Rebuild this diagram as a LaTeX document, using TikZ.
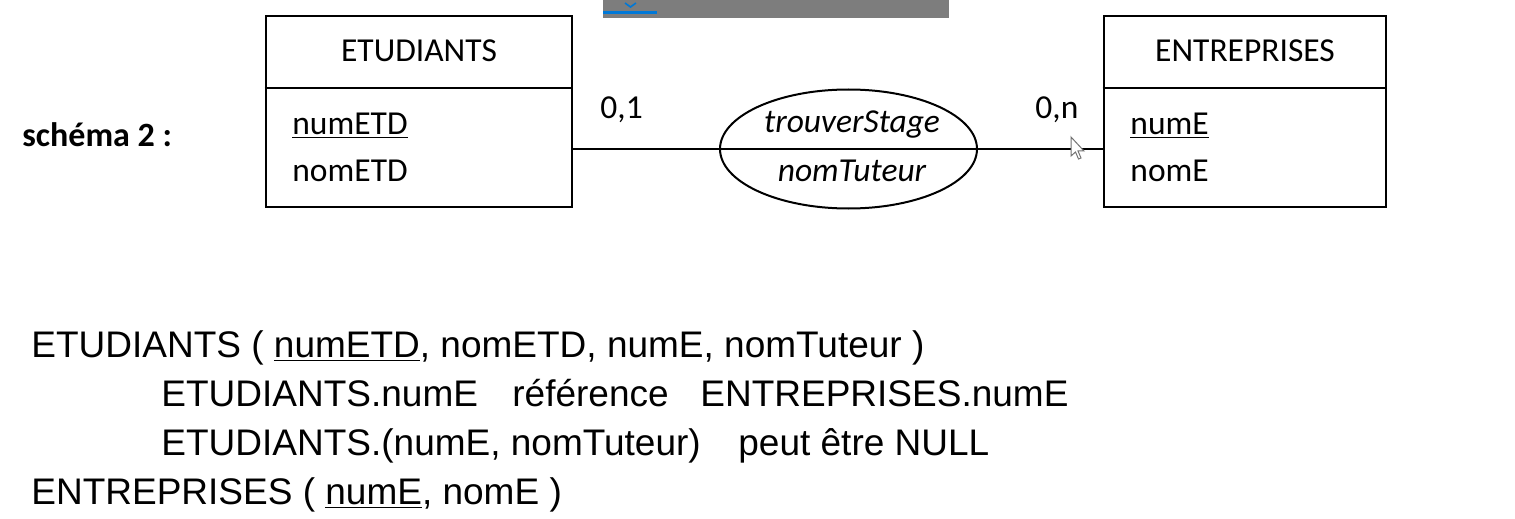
\documentclass[tikz,border=0pt]{standalone}
\usepackage{fontspec}
\setmainfont{Liberation Sans}
\newfontfamily\calibri{Carlito}
\usetikzlibrary{shapes.geometric}

\definecolor{barre}{RGB}{125,125,125}
\definecolor{bleu}{RGB}{0,120,215}

\tikzset{
  entite/.style={draw, line width=1.3pt, minimum height=95.5pt, inner sep=0pt},
  assoc/.style={draw, ellipse, line width=1pt, minimum width=128.5pt, minimum height=59.5pt, inner sep=0pt},
  lien/.style={line width=1pt},
  mcd/.style={font=\calibri\fontsize{16.75}{20}\selectfont, anchor=base west, inner sep=0pt},
  rel/.style={font=\fontsize{18.5}{22}\selectfont, anchor=base west, inner sep=0pt},
}

\begin{document}
\begin{tikzpicture}[x=0.5pt,y=-0.5pt]
    \useasboundingbox[fill=white] (0,0) rectangle (1515,519);

    % bandeau
    \fill[barre] (603,0) rectangle (949,18);
    \fill[bleu] (603,11) rectangle (657,14);
    \draw[bleu, line width=0.8pt] (625,3) -- (630.5,7) -- (636,3);

    \node[mcd, font=\calibri\bfseries\fontsize{17}{20}\selectfont] (schema) at (22,147) {schéma 2 :};

    % entites
    \node[entite, minimum width=153pt] (etd) at (419,111.5) {};
    \node[entite, minimum width=141pt] (ent) at (1245,111.5) {};
    \draw[line width=1.3pt] (etd.west |- 0,88) -- (etd.east |- 0,88);
    \draw[line width=1.3pt] (ent.west |- 0,88) -- (ent.east |- 0,88);
    \node[mcd, anchor=base] (etdnom) at (419,62) {ETUDIANTS};
    \node[mcd, anchor=base] (entnom) at (1245,62) {ENTREPRISES};
    \node[mcd] (numetd) at (292,134) {\underline{numETD}};
    \node[mcd] (nometd) at (292,181) {nomETD};
    \node[mcd] (nume) at (1130,134) {\underline{numE}};
    \node[mcd] (nome) at (1130,181) {nomE};

    % association
    \node[assoc] (stage) at (848.5,149) {};
    \node[mcd, anchor=base, font=\calibri\itshape\fontsize{16.75}{20}\selectfont] (stagenom) at (852,133) {trouverStage};
    \node[mcd, anchor=base, font=\calibri\itshape\fontsize{16.75}{20}\selectfont] (tuteur) at (852,182) {nomTuteur};
    \draw[lien] (etd.east |- stage) -- (stage.west) -- (stage.east) -- (ent.west |- stage);
    \node[mcd] (card1) at (600,119) {0,1};
    \node[mcd] (card2) at (1035,119) {0,n};

    % curseur
    \draw[fill=white, draw=black!55, line width=0.5pt, shift={(1071,137)}]
      (0,0) -- (0,19) -- (4.5,15) -- (7.5,22) -- (10,21) -- (7,14) -- (13,14) -- cycle;

    % schema relationnel
    \node[rel] (l1) at (31,357) {ETUDIANTS ( \underline{numETD}, nomETD, numE, nomTuteur )};
    \node[rel] (l2a) at (161,406) {ETUDIANTS.numE};
    \node[rel] (l2b) at (512,406) {référence};
    \node[rel] (l2c) at (700,406) {ENTREPRISES.numE};
    \node[rel] (l3a) at (161,455) {ETUDIANTS.(numE, nomTuteur)};
    \node[rel] (l3b) at (738,455) {peut être NULL};
    \node[rel] (l4) at (31,504) {ENTREPRISES ( \underline{numE}, nomE )};
\end{tikzpicture}
\end{document}
